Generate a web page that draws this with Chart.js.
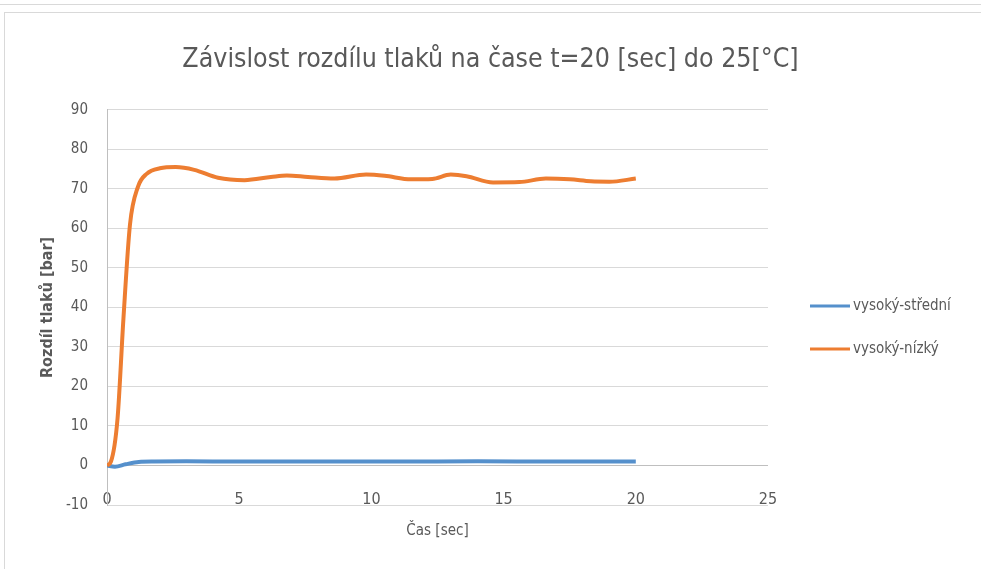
<!DOCTYPE html>
<html>
<head>
<meta charset="utf-8">
<script src="https://cdn.jsdelivr.net/npm/chart.js@4/dist/chart.umd.min.js"></script>
<style>
  html, body { margin: 0; padding: 0; background: #fff; }
  #topline { position: absolute; left: 0; top: 0; width: 981px; height: 4px; border-bottom: 1px solid #d9d9d9; }
  #frame { position: absolute; left: 4px; top: 12px; width: 977px; height: 557px; border-left: 1px solid #d9d9d9; border-top: 1px solid #d9d9d9; }
  #chart { position: absolute; left: 0; top: 0; }
</style>
</head>
<body>
<div id="topline"></div>
<div id="frame"></div>
<canvas id="chart" width="981" height="569"></canvas>
<script>
const seriesNames = ['vysoký-střední', 'vysoký-nízký'];

// time [sec] and pressure difference [bar]
const timeStredni = [0, 0.3, 0.7, 1.2, 1.8, 3, 5, 8, 11, 14, 17, 20];
const valuesStredni = [0, -0.3, 0.3, 0.9, 1.0, 1.05, 1.0, 1.0, 1.0, 1.05, 1.0, 1.0];

const timeNizky = [0, 0.15, 0.4, 0.62, 0.87, 1.17, 1.5, 2.0, 2.6, 3.3, 4.2, 5.2, 6.2, 6.8, 7.6, 8.6, 9.8, 10.5, 11.5, 12.3, 13.0, 13.6, 14.6, 15.6, 16.6, 17.5, 18.3, 19.0, 20.0];
const valuesNizky = [0, 1, 12, 37, 61, 70.5, 73.8, 75.2, 75.5, 74.8, 72.8, 72.2, 73.0, 73.4, 73.0, 72.6, 73.6, 73.3, 72.4, 72.5, 73.6, 73.2, 71.6, 71.7, 72.6, 72.4, 71.9, 71.8, 72.6];

const xTickStep = 5;
const yTickStep = 10;

const fontFamily = "'Liberation Sans Narrow', 'DejaVu Sans Condensed', 'Roboto', sans-serif";
const textColor = '#595959';

function toPoints(xs, ys) {
  return xs.map((x, i) => ({ x: x, y: ys[i] }));
}

// legend on the right, drawn like the Excel one (short line + label)
const sideLegend = {
  id: 'sideLegend',
  afterDraw(chart) {
    const c = chart.ctx;
    const area = chart.chartArea;
    c.save();
    c.font = '15px ' + fontFamily;
    c.textBaseline = 'middle';
    c.fillStyle = textColor;
    chart.data.datasets.forEach((ds, i) => {
      const y = 306 + i * 43;
      const x = area.right + 42;
      c.strokeStyle = ds.borderColor;
      c.lineWidth = 3;
      c.beginPath();
      c.moveTo(x, y);
      c.lineTo(x + 40, y);
      c.stroke();
      c.fillText(ds.label, x + 43, y);
    });
    c.restore();
  }
};

const ctx = document.getElementById('chart').getContext('2d');

new Chart(ctx, {
  type: 'line',
  data: {
    datasets: [{
      label: seriesNames[0],
      data: toPoints(timeStredni, valuesStredni),
      borderColor: '#5590cc',
      backgroundColor: '#5590cc',
      borderWidth: 4,
      pointRadius: 0,
      cubicInterpolationMode: 'monotone',
      order: 2
    }, {
      label: seriesNames[1],
      data: toPoints(timeNizky, valuesNizky),
      borderColor: '#ed7d31',
      backgroundColor: '#ed7d31',
      borderWidth: 4,
      pointRadius: 0,
      cubicInterpolationMode: 'monotone',
      order: 1
    }]
  },
  plugins: [sideLegend],
  options: {
    responsive: false,
    animation: false,
    layout: { padding: 0 },
    plugins: {
      title: {
        display: true,
        text: 'Závislost rozdílu tlaků na čase t=20 [sec] do 25[°C]',
        color: textColor,
        font: { family: fontFamily, size: 26.5, weight: 'normal' },
        padding: { top: 44, bottom: 34 }
      },
      legend: { display: false },
      tooltip: { enabled: false }
    },
    scales: {
      x: {
        type: 'linear',
        min: 0,
        max: 25,
        grid: { display: false, drawTicks: false },
        border: { display: false },
        ticks: {
          stepSize: xTickStep,
          autoSkip: false,
          mirror: true, // labels sit just above the bottom line, as in the original
          color: textColor,
          font: { family: fontFamily, size: 16 },
          padding: -4,
          maxRotation: 0
        },
        title: {
          display: true,
          text: 'Čas [sec]',
          color: textColor,
          font: { family: fontFamily, size: 15 },
          padding: { top: 0, bottom: 29 }
        },
        afterFit: function(scale) { scale.height = 64; }
      },
      y: {
        min: -10,
        max: 90,
        grid: {
          drawTicks: false,
          color: function(c) { return c.tick && c.tick.value === 0 ? '#bfbfbf' : '#d9d9d9'; },
          lineWidth: 1
        },
        border: { display: true, color: '#bfbfbf' },
        ticks: {
          stepSize: yTickStep,
          color: textColor,
          font: { family: fontFamily, size: 15 },
          padding: 19
        },
        title: {
          display: true,
          text: 'Rozdíl tlaků [bar]',
          color: textColor,
          font: { family: fontFamily, size: 16, weight: 'bold' },
          padding: { top: 38, bottom: 0 }
        },
        afterFit: function(scale) { scale.width = 107; }
      },
      // empty box on the right that keeps room for the legend
      legendSpace: {
        type: 'linear',
        position: 'right',
        display: true,
        grid: { display: false, drawTicks: false },
        border: { display: false },
        ticks: { display: false },
        afterFit: function(scale) { scale.width = 213; }
      }
    }
  }
});
</script>
</body>
</html>
